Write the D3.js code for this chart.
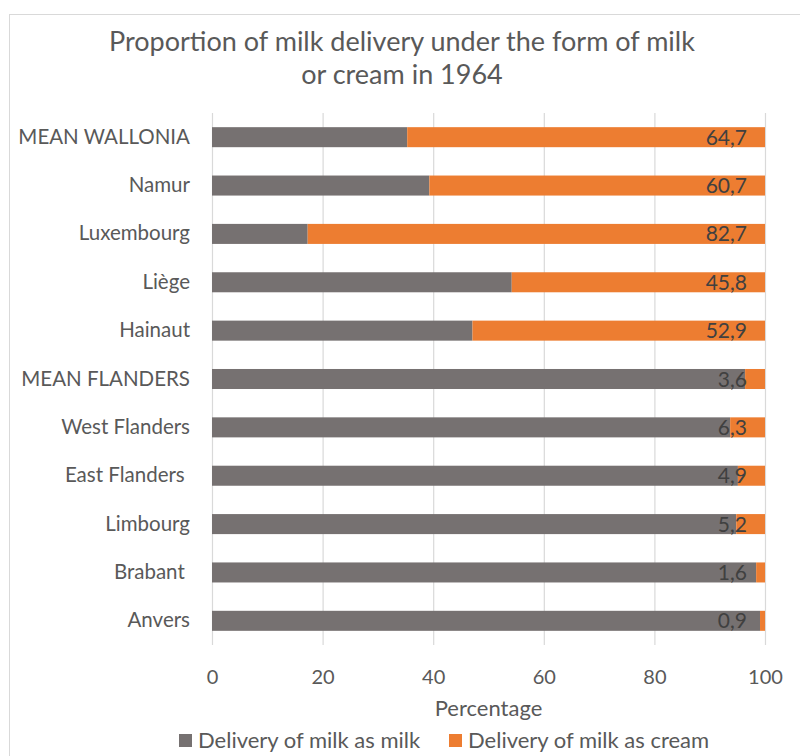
<!DOCTYPE html>
<html>
<head>
<meta charset="utf-8">
<script src="https://cdn.jsdelivr.net/npm/d3@7"></script>
<style>
  html, body { margin: 0; padding: 0; background: #fff; }
  svg text { font-family: Lato, "Open Sans", sans-serif; white-space: pre; }
</style>
</head>
<body>
<svg id="chart" width="800" height="756"></svg>
<script>
// Regions, listed from top to bottom of the chart
const regions = ["MEAN WALLONIA", "Namur", "Luxembourg", "Liège", "Hainaut",
  "MEAN FLANDERS", "West Flanders", "East Flanders ", "Limbourg", "Brabant ", "Anvers"];
// Share of milk delivered as cream (%)
const creamShare = [64.7, 60.7, 82.7, 45.8, 52.9, 3.6, 6.3, 4.9, 5.2, 1.6, 0.9];
// Share delivered as milk is the remainder
const milkShare = creamShare.map(v => +(100 - v).toFixed(1));
const xTicks = [0, 20, 40, 60, 80, 100];
const seriesNames = ["Delivery of milk as milk", "Delivery of milk as cream"];
const seriesColors = ["#767171", "#ED7D31"];

const svg = d3.select("#chart");
const W = 800, H = 756;
const plot = { left: 212, right: 765, top: 113, bottom: 645 };

// Chart frame
svg.append("rect")
  .attr("x", 9.5).attr("y", 14.5)
  .attr("width", W).attr("height", H)
  .attr("fill", "#fff").attr("stroke", "#d9d9d9").attr("stroke-width", 1);

// Title
const title = svg.append("text")
  .attr("x", 402).attr("text-anchor", "middle")
  .attr("fill", "#595959").attr("font-size", 27);
title.append("tspan").attr("x", 402).attr("y", 51).text("Proportion of milk delivery under the form of milk");
title.append("tspan").attr("x", 402).attr("y", 84).text("or cream in 1964");

const x = d3.scaleLinear().domain([0, 100]).range([plot.left, plot.right]);
const y = d3.scaleBand().domain(regions).range([plot.top, plot.bottom])
  .paddingInner(0.586).paddingOuter(0.293);

// Vertical gridlines
const grid = svg.append("g")
  .attr("transform", `translate(0,${plot.bottom})`)
  .call(d3.axisBottom(x).tickValues(xTicks).tickSize(-(plot.bottom - plot.top)).tickFormat(""));
grid.select(".domain").remove();
grid.selectAll(".tick line").attr("stroke", "#d9d9d9").attr("stroke-width", 1.2);

// X tick labels
const xAxis = svg.append("g")
  .attr("transform", `translate(0,${plot.bottom})`)
  .call(d3.axisBottom(x).tickValues(xTicks).tickSize(0).tickPadding(25).tickFormat(d3.format("d")));
xAxis.select(".domain").remove();
xAxis.selectAll("text").attr("font-size", 20).attr("fill", "#595959")
  .style("font-family", "Lato, sans-serif");

// Category labels
const yAxis = svg.append("g")
  .attr("transform", `translate(${plot.left},0)`)
  .call(d3.axisLeft(y).tickSize(0).tickPadding(22));
yAxis.select(".domain").remove();
yAxis.selectAll("text").attr("font-size", 20.5).attr("fill", "#595959")
  .style("font-family", "Lato, sans-serif").style("white-space", "pre");

// Stacked bars
const rows = regions.map((r, i) => ({ region: r, milk: milkShare[i], cream: creamShare[i] }));
const stack = d3.stack().keys(["milk", "cream"])(rows);
svg.append("g").selectAll("g").data(stack).join("g")
  .attr("fill", (d, i) => seriesColors[i])
  .selectAll("rect").data(d => d).join("rect")
  .attr("x", d => x(d[0]))
  .attr("y", d => y(d.data.region))
  .attr("width", d => x(d[1]) - x(d[0]))
  .attr("height", y.bandwidth());

// Value labels for the cream share, at the inside end of the bar
svg.append("g").selectAll("text").data(stack[1]).join("text")
  .attr("x", d => x(d[1]) - 18)
  .attr("y", d => y(d.data.region) + y.bandwidth() / 2)
  .attr("dy", "0.36em")
  .attr("text-anchor", "end")
  .attr("font-size", 21)
  .attr("fill", "#404040")
  .text(d => d3.format(".1f")(d.data.cream).replace(".", ","));

// Axis title
svg.append("text")
  .attr("x", (plot.left + plot.right) / 2).attr("y", 716)
  .attr("text-anchor", "middle").attr("font-size", 22).attr("fill", "#595959")
  .text("Percentage");

// Legend
const legend = svg.append("g");
const legendX = [179, 449];
seriesNames.forEach((name, i) => {
  legend.append("rect").attr("x", legendX[i]).attr("y", 734)
    .attr("width", 13).attr("height", 13).attr("fill", seriesColors[i]);
  legend.append("text").attr("x", legendX[i] + 19).attr("y", 748)
    .attr("font-size", 22).attr("fill", "#595959").text(name);
});
</script>
</body>
</html>
